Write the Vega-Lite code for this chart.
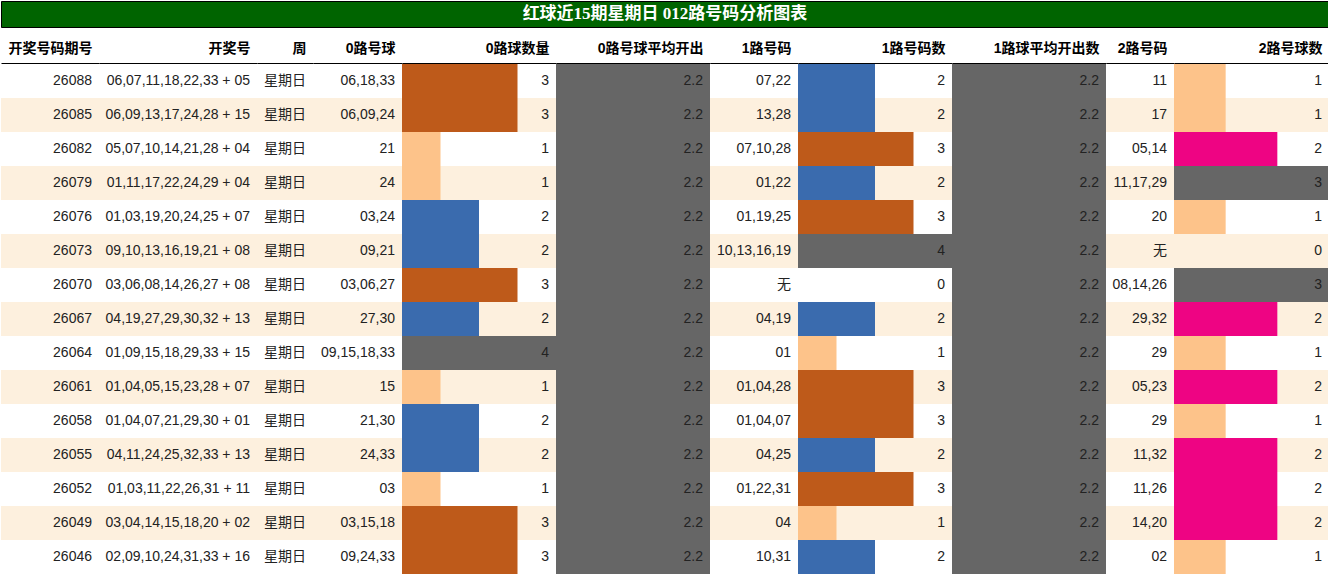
{
  "$schema": "https://vega.github.io/schema/vega-lite/v6.json",
  "background": "white",
  "padding": 0,
  "datasets": {
    "rows": [
      {"qh": "26088", "kj": "06,07,11,18,22,33 + 05", "zhou": "星期日", "h0": "06,18,33", "n0": 3, "a0": 2.2, "h1": "07,22", "n1": 2, "a1": 2.2, "h2": "11", "n2": 1},
      {"qh": "26085", "kj": "06,09,13,17,24,28 + 15", "zhou": "星期日", "h0": "06,09,24", "n0": 3, "a0": 2.2, "h1": "13,28", "n1": 2, "a1": 2.2, "h2": "17", "n2": 1},
      {"qh": "26082", "kj": "05,07,10,14,21,28 + 04", "zhou": "星期日", "h0": "21", "n0": 1, "a0": 2.2, "h1": "07,10,28", "n1": 3, "a1": 2.2, "h2": "05,14", "n2": 2},
      {"qh": "26079", "kj": "01,11,17,22,24,29 + 04", "zhou": "星期日", "h0": "24", "n0": 1, "a0": 2.2, "h1": "01,22", "n1": 2, "a1": 2.2, "h2": "11,17,29", "n2": 3},
      {"qh": "26076", "kj": "01,03,19,20,24,25 + 07", "zhou": "星期日", "h0": "03,24", "n0": 2, "a0": 2.2, "h1": "01,19,25", "n1": 3, "a1": 2.2, "h2": "20", "n2": 1},
      {"qh": "26073", "kj": "09,10,13,16,19,21 + 08", "zhou": "星期日", "h0": "09,21", "n0": 2, "a0": 2.2, "h1": "10,13,16,19", "n1": 4, "a1": 2.2, "h2": "无", "n2": 0},
      {"qh": "26070", "kj": "03,06,08,14,26,27 + 08", "zhou": "星期日", "h0": "03,06,27", "n0": 3, "a0": 2.2, "h1": "无", "n1": 0, "a1": 2.2, "h2": "08,14,26", "n2": 3},
      {"qh": "26067", "kj": "04,19,27,29,30,32 + 13", "zhou": "星期日", "h0": "27,30", "n0": 2, "a0": 2.2, "h1": "04,19", "n1": 2, "a1": 2.2, "h2": "29,32", "n2": 2},
      {"qh": "26064", "kj": "01,09,15,18,29,33 + 15", "zhou": "星期日", "h0": "09,15,18,33", "n0": 4, "a0": 2.2, "h1": "01", "n1": 1, "a1": 2.2, "h2": "29", "n2": 1},
      {"qh": "26061", "kj": "01,04,05,15,23,28 + 07", "zhou": "星期日", "h0": "15", "n0": 1, "a0": 2.2, "h1": "01,04,28", "n1": 3, "a1": 2.2, "h2": "05,23", "n2": 2},
      {"qh": "26058", "kj": "01,04,07,21,29,30 + 01", "zhou": "星期日", "h0": "21,30", "n0": 2, "a0": 2.2, "h1": "01,04,07", "n1": 3, "a1": 2.2, "h2": "29", "n2": 1},
      {"qh": "26055", "kj": "04,11,24,25,32,33 + 13", "zhou": "星期日", "h0": "24,33", "n0": 2, "a0": 2.2, "h1": "04,25", "n1": 2, "a1": 2.2, "h2": "11,32", "n2": 2},
      {"qh": "26052", "kj": "01,03,11,22,26,31 + 11", "zhou": "星期日", "h0": "03", "n0": 1, "a0": 2.2, "h1": "01,22,31", "n1": 3, "a1": 2.2, "h2": "11,26", "n2": 2},
      {"qh": "26049", "kj": "03,04,14,15,18,20 + 02", "zhou": "星期日", "h0": "03,15,18", "n0": 3, "a0": 2.2, "h1": "04", "n1": 1, "a1": 2.2, "h2": "14,20", "n2": 2},
      {"qh": "26046", "kj": "02,09,10,24,31,33 + 16", "zhou": "星期日", "h0": "09,24,33", "n0": 3, "a0": 2.2, "h1": "10,31", "n1": 2, "a1": 2.2, "h2": "02", "n2": 1}
    ]
  },
  "config": {
    "view": {"stroke": null},
    "axis": {
      "labels": false, "ticks": false, "grid": false,
      "domainColor": "black", "domainWidth": 1,
      "titleAlign": "right", "titleBaseline": "middle",
      "titleFont": "Liberation Sans, Noto Sans CJK SC", "titleFontSize": 14,
      "titleFontWeight": "bold", "titleColor": "black"
    },
    "text": {"font": "Liberation Sans, Noto Sans CJK SC", "fontSize": 14, "color": "#222222"}
  },
  "spacing": 37,
  "bounds": "flush",
  "vconcat": [
    {
      "width": 1328,
      "height": 26,
      "view": {"fill": "#006400", "stroke": "black", "strokeWidth": 1},
      "data": {"values": [{}]},
      "mark": {"type": "text", "text": "红球近15期星期日 012路号码分析图表", "font": "Liberation Serif, Noto Sans CJK SC", "fontSize": 17, "fontWeight": "bold", "color": "white", "align": "center", "baseline": "middle"},
      "encoding": {}
    },
    {
      "data": {"name": "rows"},
      "transform": [{"window": [{"op": "row_number", "as": "rn"}]}],
      "spacing": 0,
      "bounds": "flush",
      "resolve": {"scale": {"x": "independent", "fill": "independent"}},
      "hconcat": [
        {
          "width": 98, "height": 510,
          "layer": [
            {"mark": "rect", "encoding": {"y": {"field": "qh", "type": "nominal", "sort": null, "scale": {"paddingInner": 0, "paddingOuter": 0}, "axis": null}, "x": {"field": "zhou", "type": "nominal", "scale": {"paddingInner": 0, "paddingOuter": 0}, "title": "开奖号码期号", "axis": {"orient": "top", "domain": true, "zindex": 1, "offset": 1, "titleX": 91, "titleY": -15}}, "color": {"condition": {"test": "datum.rn % 2 === 0", "value": "#FDF0DE"}, "value": "white"}}},
            {"mark": {"type": "text", "align": "right", "dx": -7}, "encoding": {"y": {"field": "qh", "type": "nominal", "sort": null, "axis": null}, "x": {"value": "width"}, "text": {"field": "qh"}}}
          ]
        },
        {
          "width": 158, "height": 510,
          "layer": [
            {"mark": "rect", "encoding": {"y": {"field": "qh", "type": "nominal", "sort": null, "scale": {"paddingInner": 0, "paddingOuter": 0}, "axis": null}, "x": {"field": "zhou", "type": "nominal", "scale": {"paddingInner": 0, "paddingOuter": 0}, "title": "开奖号", "axis": {"orient": "top", "domain": true, "zindex": 1, "offset": 1, "titleX": 151, "titleY": -15}}, "color": {"condition": {"test": "datum.rn % 2 === 0", "value": "#FDF0DE"}, "value": "white"}}},
            {"mark": {"type": "text", "align": "right", "dx": -7}, "encoding": {"y": {"field": "qh", "type": "nominal", "sort": null, "axis": null}, "x": {"value": "width"}, "text": {"field": "kj"}}}
          ]
        },
        {
          "width": 56, "height": 510,
          "layer": [
            {"mark": "rect", "encoding": {"y": {"field": "qh", "type": "nominal", "sort": null, "scale": {"paddingInner": 0, "paddingOuter": 0}, "axis": null}, "x": {"field": "zhou", "type": "nominal", "scale": {"paddingInner": 0, "paddingOuter": 0}, "title": "周", "axis": {"orient": "top", "domain": true, "zindex": 1, "offset": 1, "titleX": 49, "titleY": -15}}, "color": {"condition": {"test": "datum.rn % 2 === 0", "value": "#FDF0DE"}, "value": "white"}}},
            {"mark": {"type": "text", "align": "right", "dx": -7}, "encoding": {"y": {"field": "qh", "type": "nominal", "sort": null, "axis": null}, "x": {"value": "width"}, "text": {"field": "zhou"}}}
          ]
        },
        {
          "width": 89, "height": 510,
          "layer": [
            {"mark": "rect", "encoding": {"y": {"field": "qh", "type": "nominal", "sort": null, "scale": {"paddingInner": 0, "paddingOuter": 0}, "axis": null}, "x": {"field": "zhou", "type": "nominal", "scale": {"paddingInner": 0, "paddingOuter": 0}, "title": "0路号球", "axis": {"orient": "top", "domain": true, "zindex": 1, "offset": 1, "titleX": 82, "titleY": -15}}, "color": {"condition": {"test": "datum.rn % 2 === 0", "value": "#FDF0DE"}, "value": "white"}}},
            {"mark": {"type": "text", "align": "right", "dx": -7}, "encoding": {"y": {"field": "qh", "type": "nominal", "sort": null, "axis": null}, "x": {"value": "width"}, "text": {"field": "h0"}}}
          ]
        },
        {
          "width": 154, "height": 510,
          "layer": [
            {"mark": "rect", "encoding": {"y": {"field": "qh", "type": "nominal", "sort": null, "scale": {"paddingInner": 0, "paddingOuter": 0}, "axis": null}, "color": {"condition": {"test": "datum.rn % 2 === 0", "value": "#FDF0DE"}, "value": "white"}}},
            {"mark": "bar", "encoding": {"y": {"field": "qh", "type": "nominal", "sort": null, "axis": null}, "x": {"field": "n0", "type": "quantitative", "scale": {"nice": false, "zero": true}, "title": "0路球数量", "axis": {"orient": "top", "domain": true, "zindex": 1, "offset": 1, "titleX": 147, "titleY": -15}}, "fill": {"field": "n0", "type": "ordinal", "scale": {"domain": [0, 1, 2, 3, 4], "range": ["#FFFFFF", "#FDC38A", "#3A6BAE", "#BE5A1A", "#666666"]}, "legend": null}}},
            {"mark": {"type": "text", "align": "right", "dx": -7}, "encoding": {"y": {"field": "qh", "type": "nominal", "sort": null, "axis": null}, "x": {"value": "width"}, "text": {"field": "n0"}}}
          ]
        },
        {
          "width": 154, "height": 510,
          "layer": [
            {"mark": {"type": "bar", "color": "#666666"}, "encoding": {"y": {"field": "qh", "type": "nominal", "sort": null, "scale": {"paddingInner": 0, "paddingOuter": 0}, "axis": null}, "x": {"field": "a0", "type": "quantitative", "scale": {"nice": false, "zero": true}, "title": "0路号球平均开出", "axis": {"orient": "top", "domain": true, "zindex": 1, "offset": 1, "titleX": 147, "titleY": -15}}}},
            {"mark": {"type": "text", "align": "right", "dx": -7}, "encoding": {"y": {"field": "qh", "type": "nominal", "sort": null, "axis": null}, "x": {"value": "width"}, "text": {"field": "a0", "format": ".1f"}}}
          ]
        },
        {
          "width": 88, "height": 510,
          "layer": [
            {"mark": "rect", "encoding": {"y": {"field": "qh", "type": "nominal", "sort": null, "scale": {"paddingInner": 0, "paddingOuter": 0}, "axis": null}, "x": {"field": "zhou", "type": "nominal", "scale": {"paddingInner": 0, "paddingOuter": 0}, "title": "1路号码", "axis": {"orient": "top", "domain": true, "zindex": 1, "offset": 1, "titleX": 81, "titleY": -15}}, "color": {"condition": {"test": "datum.rn % 2 === 0", "value": "#FDF0DE"}, "value": "white"}}},
            {"mark": {"type": "text", "align": "right", "dx": -7}, "encoding": {"y": {"field": "qh", "type": "nominal", "sort": null, "axis": null}, "x": {"value": "width"}, "text": {"field": "h1"}}}
          ]
        },
        {
          "width": 154, "height": 510,
          "layer": [
            {"mark": "rect", "encoding": {"y": {"field": "qh", "type": "nominal", "sort": null, "scale": {"paddingInner": 0, "paddingOuter": 0}, "axis": null}, "color": {"condition": {"test": "datum.rn % 2 === 0", "value": "#FDF0DE"}, "value": "white"}}},
            {"mark": "bar", "encoding": {"y": {"field": "qh", "type": "nominal", "sort": null, "axis": null}, "x": {"field": "n1", "type": "quantitative", "scale": {"nice": false, "zero": true}, "title": "1路号码数", "axis": {"orient": "top", "domain": true, "zindex": 1, "offset": 1, "titleX": 147, "titleY": -15}}, "fill": {"field": "n1", "type": "ordinal", "scale": {"domain": [0, 1, 2, 3, 4], "range": ["#FFFFFF", "#FDC38A", "#3A6BAE", "#BE5A1A", "#666666"]}, "legend": null}}},
            {"mark": {"type": "text", "align": "right", "dx": -7}, "encoding": {"y": {"field": "qh", "type": "nominal", "sort": null, "axis": null}, "x": {"value": "width"}, "text": {"field": "n1"}}}
          ]
        },
        {
          "width": 154, "height": 510,
          "layer": [
            {"mark": {"type": "bar", "color": "#666666"}, "encoding": {"y": {"field": "qh", "type": "nominal", "sort": null, "scale": {"paddingInner": 0, "paddingOuter": 0}, "axis": null}, "x": {"field": "a1", "type": "quantitative", "scale": {"nice": false, "zero": true}, "title": "1路球平均开出数", "axis": {"orient": "top", "domain": true, "zindex": 1, "offset": 1, "titleX": 147, "titleY": -15}}}},
            {"mark": {"type": "text", "align": "right", "dx": -7}, "encoding": {"y": {"field": "qh", "type": "nominal", "sort": null, "axis": null}, "x": {"value": "width"}, "text": {"field": "a1", "format": ".1f"}}}
          ]
        },
        {
          "width": 68, "height": 510,
          "layer": [
            {"mark": "rect", "encoding": {"y": {"field": "qh", "type": "nominal", "sort": null, "scale": {"paddingInner": 0, "paddingOuter": 0}, "axis": null}, "x": {"field": "zhou", "type": "nominal", "scale": {"paddingInner": 0, "paddingOuter": 0}, "title": "2路号码", "axis": {"orient": "top", "domain": true, "zindex": 1, "offset": 1, "titleX": 61, "titleY": -15}}, "color": {"condition": {"test": "datum.rn % 2 === 0", "value": "#FDF0DE"}, "value": "white"}}},
            {"mark": {"type": "text", "align": "right", "dx": -7}, "encoding": {"y": {"field": "qh", "type": "nominal", "sort": null, "axis": null}, "x": {"value": "width"}, "text": {"field": "h2"}}}
          ]
        },
        {
          "width": 155, "height": 510,
          "layer": [
            {"mark": "rect", "encoding": {"y": {"field": "qh", "type": "nominal", "sort": null, "scale": {"paddingInner": 0, "paddingOuter": 0}, "axis": null}, "color": {"condition": {"test": "datum.rn % 2 === 0", "value": "#FDF0DE"}, "value": "white"}}},
            {"mark": "bar", "encoding": {"y": {"field": "qh", "type": "nominal", "sort": null, "axis": null}, "x": {"field": "n2", "type": "quantitative", "scale": {"nice": false, "zero": true}, "title": "2路号球数", "axis": {"orient": "top", "domain": true, "zindex": 1, "offset": 1, "titleX": 148, "titleY": -15}}, "fill": {"field": "n2", "type": "ordinal", "scale": {"domain": [0, 1, 2, 3], "range": ["#FFFFFF", "#FDC38A", "#EE0483", "#666666"]}, "legend": null}}},
            {"mark": {"type": "text", "align": "right", "dx": -7}, "encoding": {"y": {"field": "qh", "type": "nominal", "sort": null, "axis": null}, "x": {"value": "width"}, "text": {"field": "n2"}}}
          ]
        }
      ]
    }
  ]
}
